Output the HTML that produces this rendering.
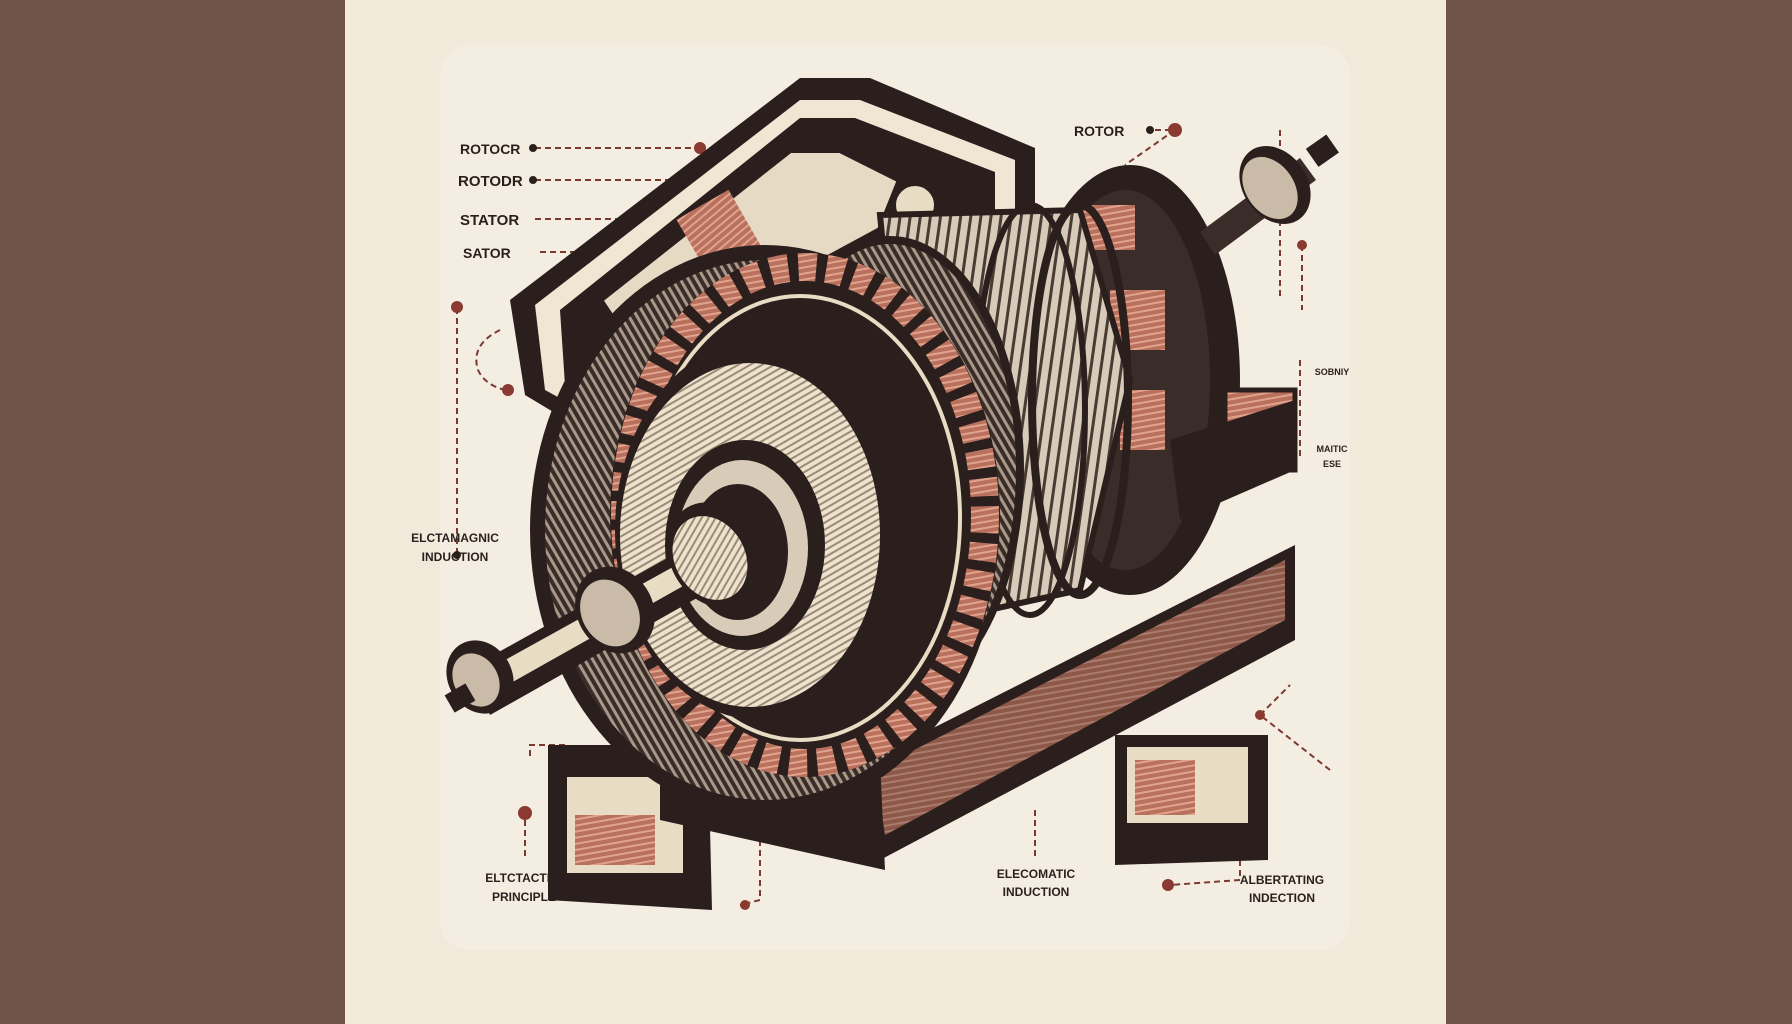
<!DOCTYPE html>
<html><head><meta charset="utf-8"><style>
html,body{margin:0;padding:0;width:1792px;height:1024px;overflow:hidden;background:#6e5448}
svg{display:block}
text{font-family:"Liberation Sans",sans-serif;font-weight:bold;fill:#2a1f1c}
</style></head><body>
<svg width="1792" height="1024" viewBox="0 0 1792 1024">
<defs>
<pattern id="st" width="10" height="10" patternUnits="userSpaceOnUse" patternTransform="rotate(8)">
<rect width="10" height="10" fill="#d6cab8"/><rect width="3" height="10" fill="#4a3a33"/></pattern>
<pattern id="st2" width="7" height="7" patternUnits="userSpaceOnUse" patternTransform="rotate(-30)">
<rect width="7" height="7" fill="#3a2c28"/><rect width="3" height="7" fill="#a89888"/></pattern>
<pattern id="cu" width="6" height="6" patternUnits="userSpaceOnUse" patternTransform="rotate(80)">
<rect width="6" height="6" fill="#b9705c"/><rect width="2" height="6" fill="#e0a38e"/></pattern>
<pattern id="wd" width="6" height="6" patternUnits="userSpaceOnUse" patternTransform="rotate(60)">
<rect width="6" height="6" fill="#ede2cc"/><rect width="2" height="6" fill="#9c8a78"/></pattern>
</defs>
<rect x="345" y="0" width="1101" height="1024" fill="#f1eadb"/>
<rect x="440" y="45" width="910" height="905" rx="30" fill="#f4eee2"/>

<!-- dashed leaders -->
<g stroke="#7a3a30" stroke-width="2" stroke-dasharray="6,4" fill="none">
<path d="M535 148 H700 M700 148 H778 Q790 152 795 170"/>
<path d="M535 180 H690 Q700 185 705 205"/>
<path d="M535 219 H620 Q632 225 635 240"/>
<path d="M540 252 H585 Q594 256 596 268"/>
<path d="M457 308 V555"/>
<path d="M500 330 Q470 345 478 370 Q485 385 505 390"/>
<path d="M1155 130 H1175 L1125 165"/>
<path d="M1302 245 V310"/>
<path d="M1280 130 V300"/>
<path d="M1300 360 V460"/>
<path d="M525 810 V860"/>
<path d="M760 830 V900 L740 905"/>
<path d="M1035 810 V860"/>
<path d="M1330 770 L1260 715 M1260 715 L1290 685 M1240 810 V880 L1170 885"/>
<path d="M565 745 H530 V760"/>
</g>
<g fill="#8a3a30">
<circle cx="700" cy="148" r="6"/><circle cx="630" cy="219" r="4"/><circle cx="457" cy="307" r="6"/>
<circle cx="508" cy="390" r="6"/><circle cx="1175" cy="130" r="7"/><circle cx="1302" cy="245" r="5"/>
<circle cx="525" cy="813" r="7"/><circle cx="745" cy="905" r="5"/><circle cx="1168" cy="885" r="6"/>
<circle cx="1260" cy="715" r="5"/>
</g>
<g fill="#2a1f1c"><circle cx="533" cy="148" r="4"/><circle cx="533" cy="180" r="4"/><circle cx="1150" cy="130" r="4"/><circle cx="457" cy="555" r="4"/></g>

<!-- base -->
<polygon points="870,760 1295,545 1295,640 880,860" fill="#2a1f1c"/>
<polygon points="875,770 1285,560 1285,620 885,835" fill="url(#cu)" opacity="0.7"/>
<polygon points="548,745 708,745 712,910 548,900" fill="#2a1f1c"/>
<rect x="565" y="775" width="120" height="100" fill="#e8dcc4" stroke="#2a1f1c" stroke-width="4"/>
<rect x="575" y="815" width="80" height="50" fill="url(#cu)"/>
<polygon points="1115,735 1268,735 1268,860 1115,865" fill="#2a1f1c"/>
<rect x="1125" y="745" width="125" height="80" fill="#e8dcc4" stroke="#2a1f1c" stroke-width="4"/>
<rect x="1135" y="760" width="60" height="55" fill="url(#cu)"/>
<polygon points="660,700 880,760 885,870 660,820" fill="#2a1f1c"/>

<!-- housing top box (frame) -->
<polygon points="510,300 800,78 870,78 1035,148 1035,230 900,320 600,440 525,395" fill="#2a1f1c"/>
<polygon points="535,305 800,100 860,100 1015,160 1015,222 900,295 600,420 545,390" fill="#efe6d4"/>
<polygon points="560,310 800,118 855,118 995,172 995,215 900,275 600,400 565,385" fill="#2a1f1c"/>
<polygon points="600,300 790,150 840,150 900,180 880,230 640,360" fill="#e6dac4" stroke="#2a1f1c" stroke-width="6"/>
<rect x="690" y="200" width="60" height="70" fill="url(#cu)" transform="rotate(-30 720 235)"/>
<circle cx="915" cy="205" r="22" fill="#e8dcc4" stroke="#2a1f1c" stroke-width="6"/>

<!-- right back ring and drum -->
<ellipse cx="1130" cy="380" rx="110" ry="215" fill="#2a1f1c"/>
<ellipse cx="1125" cy="380" rx="85" ry="190" fill="#3a2c28"/>
<rect x="1080" y="205" width="55" height="45" fill="url(#cu)"/>
<rect x="1110" y="290" width="55" height="60" fill="url(#cu)"/>
<rect x="1120" y="390" width="45" height="60" fill="url(#cu)"/>
<rect x="1225" y="390" width="70" height="80" fill="url(#cu)" stroke="#2a1f1c" stroke-width="5"/>
<polygon points="1170,440 1295,400 1295,470 1180,520" fill="#2a1f1c"/>
<polygon points="880,215 1080,210 1130,380 1080,590 920,625" fill="url(#st)" stroke="#2a1f1c" stroke-width="6"/>
<ellipse cx="1080" cy="400" rx="48" ry="195" fill="none" stroke="#2a1f1c" stroke-width="8"/>
<ellipse cx="1030" cy="410" rx="55" ry="205" fill="none" stroke="#2a1f1c" stroke-width="6"/>

<!-- right shaft -->
<polygon points="1200,232 1300,158 1316,180 1215,255" fill="#3a2c28"/>
<ellipse cx="1275" cy="185" rx="32" ry="42" fill="#2a1f1c" transform="rotate(-35 1275 185)"/>
<ellipse cx="1270" cy="188" rx="24" ry="34" fill="#c9bba8" transform="rotate(-35 1270 188)"/>
<rect x="1310" y="140" width="25" height="22" fill="#2a1f1c" transform="rotate(-35 1322 151)"/>

<!-- front stator -->
<ellipse cx="765" cy="530" rx="235" ry="285" fill="#2a1f1c"/>
<ellipse cx="765" cy="530" rx="220" ry="270" fill="url(#st2)"/>
<ellipse cx="890" cy="470" rx="130" ry="230" fill="url(#st2)" stroke="#2a1f1c" stroke-width="8"/>
<ellipse cx="805" cy="515" rx="195" ry="262" fill="#2a1f1c"/>
<ellipse cx="805" cy="515" rx="180" ry="248" fill="none" stroke="url(#cu)" stroke-width="28" stroke-dasharray="18,10"/>
<ellipse cx="800" cy="518" rx="160" ry="222" fill="none" stroke="#e8dcc4" stroke-width="4"/>
<ellipse cx="760" cy="530" rx="145" ry="190" fill="#2a1f1c"/>
<ellipse cx="750" cy="535" rx="130" ry="172" fill="url(#wd)"/>
<ellipse cx="745" cy="545" rx="80" ry="105" fill="#2a1f1c"/>
<ellipse cx="742" cy="548" rx="66" ry="88" fill="#d8ccb8"/>
<ellipse cx="738" cy="552" rx="50" ry="68" fill="#2a1f1c"/>

<!-- front shaft -->
<polygon points="470,668 700,540 720,585 490,715" fill="#2a1f1c"/>
<polygon points="478,675 700,552 708,572 486,697" fill="#e8dcc4"/>
<ellipse cx="715" cy="555" rx="45" ry="55" fill="#2a1f1c" transform="rotate(-30 715 555)"/>
<ellipse cx="710" cy="558" rx="35" ry="44" fill="url(#wd)" transform="rotate(-30 710 558)"/>
<ellipse cx="615" cy="610" rx="38" ry="45" fill="#2a1f1c" transform="rotate(-30 615 610)"/>
<ellipse cx="610" cy="613" rx="28" ry="35" fill="#c9bba8" transform="rotate(-30 610 613)"/>
<ellipse cx="480" cy="677" rx="32" ry="38" fill="#2a1f1c" transform="rotate(-30 480 677)"/>
<ellipse cx="476" cy="680" rx="22" ry="28" fill="#c9bba8" transform="rotate(-30 476 680)"/>
<rect x="448" y="688" width="24" height="20" fill="#2a1f1c" transform="rotate(-30 460 698)"/>

<!-- labels -->
<g font-size="14">
<text x="460" y="154" font-size="14">ROTOCR</text>
<text x="458" y="186" font-size="15">ROTODR</text>
<text x="460" y="225" font-size="15">STATOR</text>
<text x="463" y="258" font-size="14">SATOR</text>
<text x="1074" y="136" font-size="14">ROTOR</text>
<text x="455" y="542" font-size="12" text-anchor="middle">ELCTAMAGNIC</text>
<text x="455" y="561" font-size="12" text-anchor="middle">INDUCTION</text>
<text x="522" y="882" font-size="12" text-anchor="middle">ELTCTACTIC</text>
<text x="524" y="901" font-size="12" text-anchor="middle">PRINCIPLE</text>
<text x="1036" y="878" font-size="12" text-anchor="middle">ELECOMATIC</text>
<text x="1036" y="896" font-size="12" text-anchor="middle">INDUCTION</text>
<text x="1282" y="884" font-size="12" text-anchor="middle">ALBERTATING</text>
<text x="1282" y="902" font-size="12" text-anchor="middle">INDECTION</text>
<text x="1332" y="375" font-size="9" text-anchor="middle">SOBNIY</text>
<text x="1332" y="452" font-size="9" text-anchor="middle">MAITIC</text>
<text x="1332" y="467" font-size="9" text-anchor="middle">ESE</text>
</g>
</svg>
</body></html>
